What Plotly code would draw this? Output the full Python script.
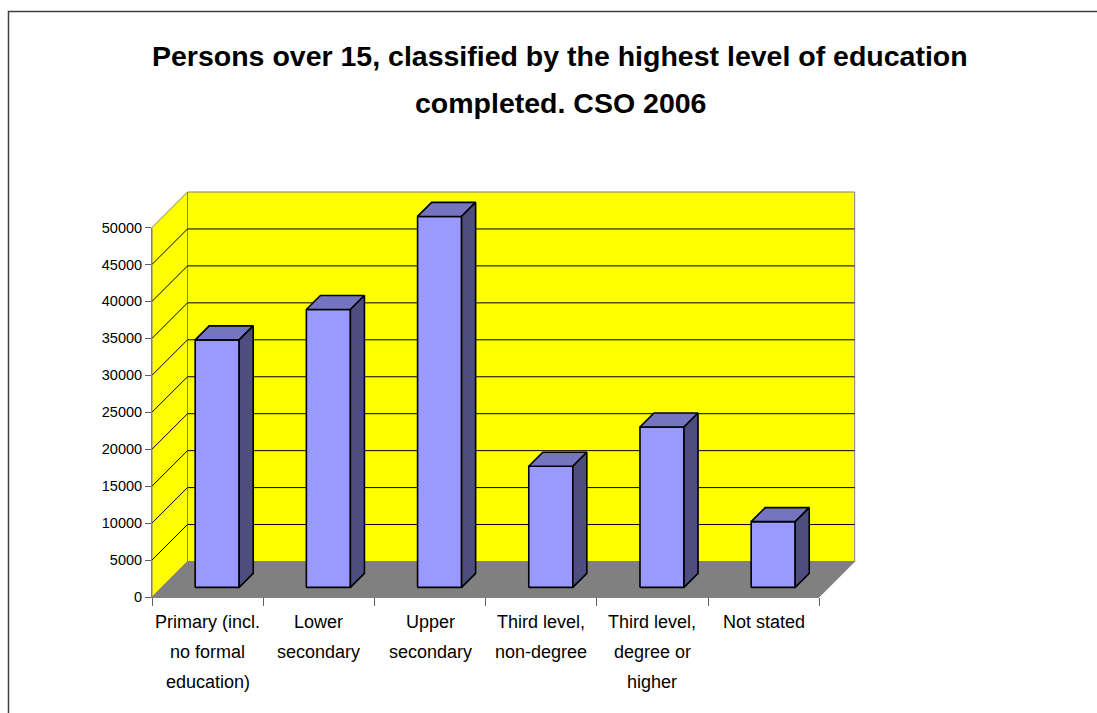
import plotly.graph_objects as go

# ---- data ---------------------------------------------------------------
categories = [
    ["Primary (incl.", "no formal", "education)"],
    ["Lower", "secondary"],
    ["Upper", "secondary"],
    ["Third level,", "non-degree"],
    ["Third level,", "degree or", "higher"],
    ["Not stated"],
]
persons = [33500, 37600, 50200, 16400, 21700, 8900]
y_ticks = list(range(0, 50001, 5000))
title_lines = [
    "Persons over 15, classified by the highest level of education",
    "completed. CSO 2006",
]

# ---- geometry of the pseudo-3D box --------------------------------------
FIG_W, FIG_H = 1097, 713
UX = 111.2            # pixels per category on the front edge
PY = 0.00739          # pixels per person
DEPTH_PX = 35.5       # oblique depth of the box
PAD = 4               # drawing slack around the box so edges are not clipped
N = len(persons)
Y_MAX = y_ticks[-1]

DX = DEPTH_PX / UX
DY = DEPTH_PX / PY
L, T = 148, 188
W = round((N * UX + DEPTH_PX) + 2 * PAD)
H = round((Y_MAX * PY + DEPTH_PX) + 2 * PAD)
R = FIG_W - L - W
B = FIG_H - T - H

BAR_W = 0.396         # bar width in category units
F_FRONT, F_BACK = 0.27, 0.665   # bar front/back as fractions of box depth

FONT = "Liberation Sans, Arial, sans-serif"
EDGE = "#808080"
WALL = "#FFFF00"
FLOOR = "#808080"
BAR_FRONT, BAR_TOP, BAR_SIDE = "#9999FF", "#7474C0", "#4D4D80"
LABEL_SIZE, LABEL_LEAD = 18, 30


def px_to_paper_x(px):
    return (px - L) / W


def px_to_paper_y(py):
    return 1 - (py - T) / H


def poly(xs, ys, fill, line_color, line_width=1.0):
    return go.Scatter(
        x=list(xs) + [xs[0]], y=list(ys) + [ys[0]],
        mode="lines", fill="toself", fillcolor=fill,
        line=dict(color=line_color, width=line_width),
        hoverinfo="skip", showlegend=False,
    )


def segment(x0, y0, x1, y1, color, width=1.0):
    return go.Scatter(
        x=[x0, x1], y=[y0, y1], mode="lines",
        line=dict(color=color, width=width),
        hoverinfo="skip", showlegend=False,
    )


fig = go.Figure()

# floor
fig.add_trace(poly([0, N, N + DX, DX], [0, 0, DY, DY], FLOOR, EDGE))
# side wall
fig.add_trace(poly([0, DX, DX, 0], [0, DY, Y_MAX + DY, Y_MAX], WALL, EDGE))
# back wall
fig.add_trace(poly([DX, N + DX, N + DX, DX], [DY, DY, Y_MAX + DY, Y_MAX + DY], WALL, EDGE))

# gridlines on both walls
for v in y_ticks[1:-1]:
    fig.add_trace(segment(0, v, DX, v + DY, "black", 1))
    fig.add_trace(segment(DX, v + DY, N + DX, v + DY, "black", 1))

# bars: front, top and right side faces
fdx, fdy = F_FRONT * DX, F_FRONT * DY
bdx, bdy = F_BACK * DX, F_BACK * DY
for i, v in enumerate(persons):
    x0 = i + 0.5 - BAR_W / 2
    x1 = i + 0.5 + BAR_W / 2
    fig.add_trace(poly([x0 + fdx, x1 + fdx, x1 + fdx, x0 + fdx],
                       [fdy, fdy, v + fdy, v + fdy], BAR_FRONT, "black", 1.6))
    fig.add_trace(poly([x0 + fdx, x1 + fdx, x1 + bdx, x0 + bdx],
                       [v + fdy, v + fdy, v + bdy, v + bdy], BAR_TOP, "black", 1.6))
    fig.add_trace(poly([x1 + fdx, x1 + bdx, x1 + bdx, x1 + fdx],
                       [fdy, bdy, v + bdy, v + fdy], BAR_SIDE, "black", 1.6))

# anchor trace for the value / category axes
fig.add_trace(go.Scatter(x=[0], y=[0], xaxis="x2", yaxis="y2", mode="markers",
                         marker=dict(opacity=0), hoverinfo="skip", showlegend=False))

# category labels, one line per annotation for Excel-like leading
annotations = []
for i, lines in enumerate(categories):
    for k, line in enumerate(lines):
        annotations.append(dict(
            text=line, xref="x2", yref="y2", x=i + 0.5, y=0,
            xanchor="center", yanchor="middle", yshift=-(25 + LABEL_LEAD * k),
            showarrow=False, font=dict(family=FONT, size=LABEL_SIZE, color="black"),
        ))

for k, line in enumerate(title_lines):
    annotations.append(dict(
        text=f"<b>{line}</b>", xref="paper", yref="paper",
        x=px_to_paper_x(560), y=px_to_paper_y(56 + 47 * k),
        xanchor="center", yanchor="middle", showarrow=False,
        font=dict(family=FONT, size=28.5, color="black"),
    ))

fig.update_layout(
    width=FIG_W, height=FIG_H,
    margin=dict(l=L, r=R, t=T, b=B, pad=0, autoexpand=False),
    paper_bgcolor="white", plot_bgcolor="rgba(0,0,0,0)",
    showlegend=False,
    font=dict(family=FONT, color="black"),
    xaxis=dict(visible=False, range=[-PAD / UX, (W - PAD) / UX], domain=[0, 1],
               fixedrange=True, automargin=False),
    yaxis=dict(visible=False, range=[-PAD / PY, (H - PAD) / PY], domain=[0, 1],
               fixedrange=True, automargin=False),
    xaxis2=dict(
        domain=[PAD / W, (PAD + N * UX) / W], range=[0, N], anchor="y2",
        showgrid=False, zeroline=False, showline=True, linecolor=EDGE, linewidth=1,
        tickmode="array", tickvals=list(range(N + 1)), showticklabels=False,
        ticks="outside", ticklen=8, tickwidth=1, tickcolor="#606060",
        fixedrange=True, automargin=False,
    ),
    yaxis2=dict(
        domain=[PAD / H, (PAD + Y_MAX * PY) / H], range=[0, Y_MAX], anchor="x2",
        showgrid=False, zeroline=False, showline=True, linecolor=EDGE, linewidth=1,
        tickmode="array", tickvals=y_ticks, ticktext=[str(t) for t in y_ticks],
        ticks="outside", ticklen=6, tickwidth=1, tickcolor="#606060",
        tickfont=dict(family=FONT, size=14.5, color="black"),
        fixedrange=True, automargin=False,
    ),
    shapes=[dict(
        type="rect", xref="paper", yref="paper", layer="above",
        x0=px_to_paper_x(8.5), y0=px_to_paper_y(11.5),
        x1=px_to_paper_x(1110), y1=px_to_paper_y(730),
        line=dict(color="#404040", width=1.5), fillcolor="rgba(0,0,0,0)",
    )],
    annotations=annotations,
)

fig.write_html("out.html")
